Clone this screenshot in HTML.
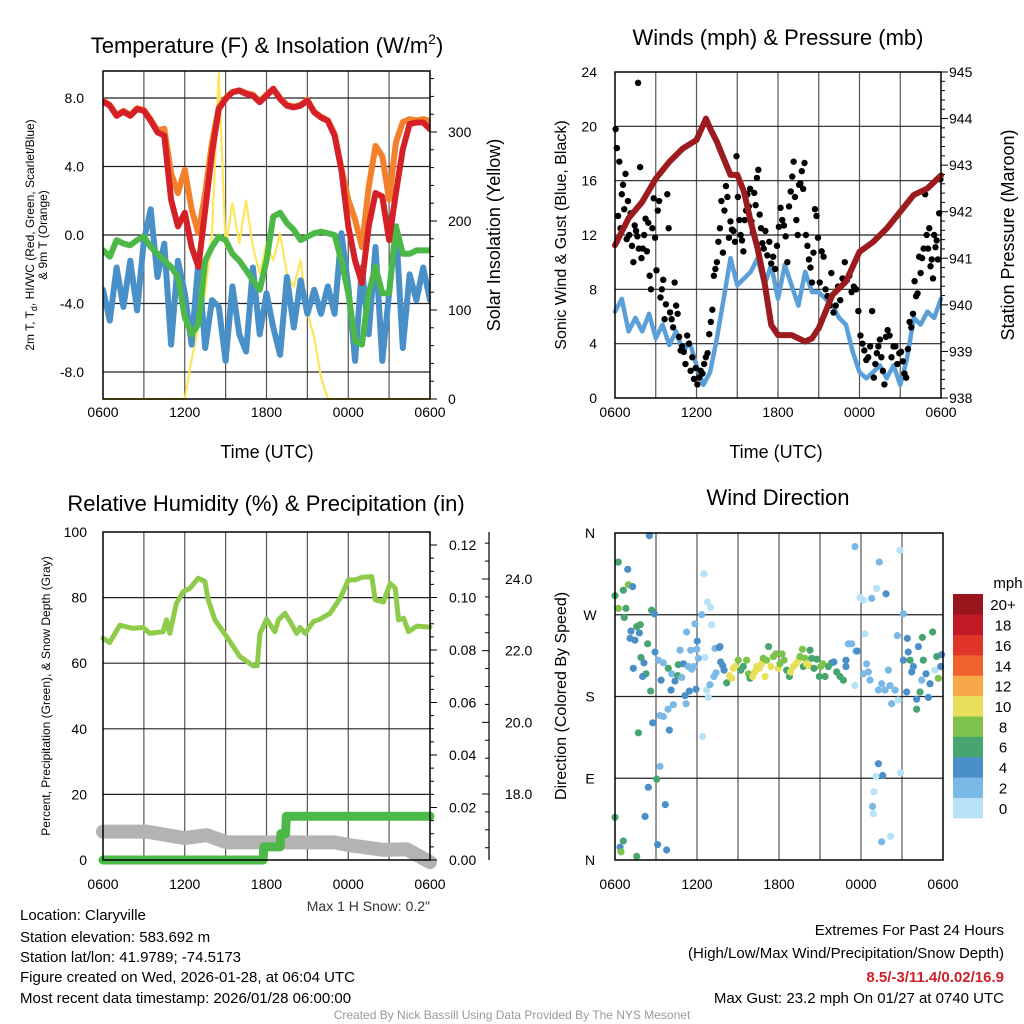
<!DOCTYPE html>
<html><head><meta charset="utf-8"><style>
html,body{margin:0;padding:0;background:#fff;}
svg{display:block;font-family:"Liberation Sans",Arial,sans-serif;}
</style></head><body>
<svg id="fig" width="1024" height="1024" viewBox="0 0 1024 1024" xmlns="http://www.w3.org/2000/svg">
<defs><clipPath id="clip1"><rect x="103" y="71" width="327" height="329"/></clipPath></defs>
<g id="g1"></g>
<g id="g2"></g>
<g id="g3"></g>
<g id="g4"></g>
<g id="txt">
<text x="267" y="53" font-size="22" text-anchor="middle">Temperature (F) &amp; Insolation (W/m<tspan font-size="14" dy="-9">2</tspan><tspan dy="9">)</tspan></text>
<text x="778" y="45" font-size="22" text-anchor="middle">Winds (mph) &amp; Pressure (mb)</text>
<text x="266" y="511" font-size="22" text-anchor="middle">Relative Humidity (%) &amp; Precipitation (in)</text>
<text x="778" y="505" font-size="22" text-anchor="middle">Wind Direction</text>
<text x="267" y="458" font-size="18" text-anchor="middle">Time (UTC)</text>
<text x="776" y="458" font-size="18" text-anchor="middle">Time (UTC)</text>
<text transform="translate(34,235) rotate(-90)" font-size="12" text-anchor="middle">2m T, T<tspan font-size="9" dy="3">d</tspan><tspan dy="-3">, HI/WC (Red, Green, Scarlet/Blue)</tspan></text>
<text transform="translate(47,235) rotate(-90)" font-size="12" text-anchor="middle">&amp; 9m T (Orange)</text>
<text transform="translate(500,235) rotate(-90)" font-size="18" text-anchor="middle">Solar Insolation (Yellow)</text>
<text transform="translate(566,235) rotate(-90)" font-size="16" text-anchor="middle">Sonic Wind &amp; Gust (Blue, Black)</text>
<text transform="translate(1014,235) rotate(-90)" font-size="18" text-anchor="middle">Station Pressure (Maroon)</text>
<text transform="translate(50,696) rotate(-90)" font-size="12" text-anchor="middle">Percent, Precipitation (Green), &amp; Snow Depth (Gray)</text>
<text transform="translate(566,696) rotate(-90)" font-size="16" text-anchor="middle">Direction (Colored By Speed)</text>
<text x="430" y="911" font-size="14" text-anchor="end" fill="#333">Max 1 H Snow: 0.2"</text>
<g font-size="15">
<text x="20" y="920">Location: Claryville</text>
<text x="20" y="942">Station elevation: 583.692 m</text>
<text x="20" y="962">Station lat/lon: 41.9789; -74.5173</text>
<text x="20" y="982">Figure created on Wed, 2026-01-28, at 06:04 UTC</text>
<text x="20" y="1003">Most recent data timestamp: 2026/01/28 06:00:00</text>
</g>
<g font-size="15" text-anchor="end">
<text x="1004" y="935">Extremes For Past 24 Hours</text>
<text x="1004" y="958">(High/Low/Max Wind/Precipitation/Snow Depth)</text>
<text x="1004" y="982" fill="#d0202a" font-weight="bold">8.5/-3/11.4/0.02/16.9</text>
<text x="1004" y="1003">Max Gust: 23.2 mph On 01/27 at 0740 UTC</text>
</g>
<text x="512" y="1019" font-size="12" fill="#999" text-anchor="middle">Created By Nick Bassill Using Data Provided By The NYS Mesonet</text>
</g>
</svg>
<script>
// ---- Panel 1 data (half-hour steps from 0600 UTC) ----
const tempRed=[7.8,7.55,6.96,7.2,6.96,7.35,7.25,6.67,6.0,5.8,2.06,0.5,1.3,-0.7,-1.86,1.47,4.8,7.35,7.94,8.33,8.43,8.24,8.14,7.75,8.14,8.53,7.94,7.55,7.45,7.55,7.84,7.16,6.86,6.67,5.8,3.8,0.5,-1.5,-2.8,0.5,2.45,2.25,-0.3,2.45,5.0,6.47,6.57,6.57,6.18];
const tempOrange=[7.85,7.6,7.0,7.25,7.0,7.4,7.3,6.75,6.1,6.2,3.6,2.45,3.8,1.5,0.1,2.45,5.4,7.45,8.0,8.35,8.45,8.3,8.2,7.8,8.2,8.55,8.0,7.6,7.5,7.6,7.9,7.2,6.9,6.7,5.9,3.9,2.06,0.9,-0.7,2.8,5.2,4.6,2.06,5.4,6.6,6.76,6.7,6.76,6.67];
const dewGreen=[-0.88,-1.27,-0.3,-0.5,-0.6,-0.3,-0.1,-0.7,-1.1,-1.5,-1.86,-2.45,-4.8,-5.8,-5.2,-1.5,-0.7,-0.1,-0.3,-1.1,-1.5,-2.06,-2.65,-3.2,-1.5,1.08,1.3,0.7,0.3,-0.3,-0.1,0.1,0.2,0.1,0,-1.5,-3.4,-6.2,-6.4,-3.4,-1.86,-3.4,-3.4,0.5,-1.1,-1.1,-0.9,-0.9,-0.9];
const chillBlue=[-3.2,-5,-1.9,-4.2,-1.5,-4.4,-0.3,1.5,-2.45,-0.5,-6.4,-1.5,-3.4,-6.4,-1.5,-6.6,-3.8,-4.2,-7.35,-3.0,-5.8,-6.8,-1.9,-5.8,-3.4,-5.4,-7,-2.45,-5.4,-2.65,-4.6,-3.2,-4.6,-3,-4.6,0.1,-3,-7.35,-1.9,-5.8,-0.7,-7.35,-3.4,0.5,-6.6,-2.3,-3.8,-1.9,-3.8];
const solar=[0,0,0,0,0,0,0,0,0,0,0,0,0,44,81,119,186,366,171,220,175,223,171,141,175,156,186,141,126,156,96,70,25,0,0,0,0,0,0,0,0,0,0,0,0,0,0,0,0];
const xTickLabels=["0600","1200","1800","0000","0600"];
const tempTicks=[8.0,4.0,0.0,-4.0,-8.0];
const solarTicks=[0,100,200,300];
// ---- Panel 2 data ----
const sonicWind=[6.35,7.3,4.9,5.9,4.9,6.2,4.4,5.4,3.9,4.9,3.4,4.1,2.4,0.96,1.9,4.4,7.3,10.3,8.3,8.8,9.3,10.3,8.3,9.8,7.3,9.8,8.3,6.8,9.3,7.8,7.8,7.3,6.8,5.9,5.4,3.4,1.9,1.45,1.9,2.4,1.45,2.4,0.96,2.9,5.9,5.4,6.35,5.9,7.3];
const presHours=[0,1,2,3,4,5,6,6.7,7,7.5,8,8.5,9,9.5,10,10.5,11,11.5,12,13,14,14.5,15,15.5,16,17,18,19,20,21,22,23,24];
const presValues=[941.28,941.86,942.21,942.71,943.07,943.36,943.54,944.0,943.79,943.5,943.14,942.79,942.79,942.43,941.78,941.21,940.5,939.57,939.35,939.35,939.21,939.28,939.5,939.85,940.21,940.5,941.14,941.35,941.64,942.0,942.36,942.5,942.78];
const gustsByHour=[
[19.8,18.4,13.4,17.4,12.5,15.0,15.7,13.9,16.5,11.7,14.5],
[12.0,13.6,11.2,10.0,12.7,12.3,11.9,11.0,17.0,10.3],
[11.0,12.0,13.2,10.8,12.9,9.0,8.0,12.5,14.7,11.8],
[9.4,13.8,14.5,7.4,8.0,8.7,5.8,6.9,15.0,12.5],
[6.3,5.8,5.2,8.5,6.8,6.2,4.5,3.5,3.8],
[3.4,2.5,4.6,4.0,2.0,3.0,1.4,2.2],
[1.0,1.5,2.0,1.8,2.5,3.0,3.3,4.7],
[5.6,6.5,9.0,9.5,10.0,11.5,12.5,14.5,10.7],
[13.8,15.6,14.8,11.8,13.0,12.4,12.3,11.5,17.8],
[14.8,13.1,12.0,11.6,10.8,13.1,13.8,15.0,14.1,15.4],
[13.0,12.2,15.1,14.2,16.2,16.8,13.5,12.5,11.4,11.0],
[12.3,10.5,11.5,9.9,10.4,9.5,11.2],
[12.6,14.0,13.1,12.7,11.9,10.0,14.1,15.2],
[16.3,17.4,14.8,13.1,12.0,15.7,15.8,16.7,15.4,17.3],
[12.0,11.2,10.2,9.6,8.5,10.7,13.9,13.4,11.8],
[8.5,10.8,10.4,8.0,7.5,6.8,9.2],
[6.3,6.8,8.2,7.2,8.8,10.0],
[8.7,9.0,7.8,8.2,8.0,6.4],
[4.6,4.0,3.5,2.8,3.0,3.8,6.4],
[1.5,2.5,3.3,3.8,4.3,3.0,2.0,1.0,4.5],
[5.0,4.6,3.0,3.8,3.8,2.5,3.3],
[3.4,2.7,1.8,1.5,3.6,5.6,5.2,6.2],
[8.6,7.5,7.7,10.4,9.2,10.3,11.0,15.0,12.0],
[11.0,12.5,9.7,10.2,8.8,12.0,11.1,11.6,10.2,13.6,16.1]];
const windTicks=[0,4,8,12,16,20,24];
const presTicks=[938,939,940,941,942,943,944,945];
// ---- Panel 3 data ----
const rhHours=[0,0.49,1.23,2.21,2.94,3.43,4.41,4.66,4.9,5.39,5.88,6.37,6.99,7.48,7.72,8.21,9.07,10.05,11.03,11.32,11.52,12.01,12.62,12.87,13.36,13.73,14.22,14.46,14.83,15.44,15.93,16.67,17.4,18.01,18.5,19.0,19.73,19.98,20.59,21.08,21.45,21.69,22.06,22.43,23.04,24];
const rhValues=[67.6,66.3,71.6,70.6,70.9,69.1,69.6,73.2,69.1,78.3,81.8,82.8,85.9,84.9,79.3,73.2,68.1,62.0,59.2,59.2,69.1,73.4,69.6,73.2,75.2,72.7,69.1,70.9,69.1,72.7,73.4,75.2,79.8,85.4,85.4,86.2,86.4,79.3,78.7,84.3,82.8,73.2,73.7,69.6,71.3,71.0];
const precipHours=[0,11.75,11.8,13.0,13.05,13.4,13.45,24];
const precipValues=[0,0,0.005,0.005,0.01,0.01,0.0167,0.0167];
const snowHours=[0,3.2,6,7.6,9.1,17,18.3,20.6,22.3,24];
const snowValues=[16.95,16.95,16.77,16.85,16.65,16.65,16.56,16.44,16.46,16.1];
const rhTicks=[0,20,40,60,80,100];
const precipTicks=[0.00,0.02,0.04,0.06,0.08,0.10,0.12];
const snowTicks=[18.0,20.0,22.0,24.0];
// ---- Panel 4 data ----
const dirHours=[0,0.24,0.24,0.61,0.98,0.8,0.68,0.93,1.29,1.17,1.1,1.46,1.78,1.59,1.85,2.39,1.9,2.12,2.27,2.02,1.34,2.61,2.51,2.68,2.88,2.93,2.76,1.71,3.29,3.05,2.44,2.2,3.68,3.12,3.78,1.59,0.61,0.37,0.44,0,3.17,3.54,3.9,4.15,3.37,4.39,4.1,4.59,4.63,5.0,5.37,4.88,5.12,5.44,5.93,4.27,3.88,3.54,3.29,3.98,5.2,4.76,5.24,5.54,5.78,5.61,5.85,6.02,5.98,6.34,6.51,6.76,7.0,7.07,6.59,6.1,6.71,6.83,6.41,6.95,7.24,7.39,7.32,7.63,7.68,7.73,7.88,7.98,8.17,8.37,8.54,8.66,8.78,9.02,9.2,9.39,9.63,9.76,9.88,10.07,10.24,10.37,10.56,10.73,10.85,10.98,11.1,11.24,11.41,11.59,11.78,11.95,12.07,12.22,12.37,12.56,12.76,12.85,13.05,13.24,13.41,13.54,13.71,13.78,13.9,14.02,14.17,14.27,14.39,14.56,14.76,14.95,15.05,15.2,15.37,15.61,15.85,16.02,16.22,16.46,16.71,16.9,16.9,17.07,17.32,17.56,17.63,17.73,17.56,17.93,18.17,18.29,18.41,18.17,18.54,18.66,18.78,19.15,19.34,19.83,20.0,19.27,19.51,19.76,20.12,20.24,20.49,20.73,20.85,21.1,20.66,21.1,21.34,21.39,21.46,21.59,21.71,21.83,22.07,22.07,22.2,22.32,22.44,22.49,22.56,22.76,22.93,23.05,23.24,23.54,23.66,23.83,23.9,23.41,19.27,19.1,19.59,18.95,18.85,18.9,19.51,20.17,20.9];
const dirDegrees=[291,328,277,297,303,277,267,320,301,252,244,242,250,257,259,238,223,217,205,202,211,186,357,275,271,229,151,140,103,89,80,48,61,17,11,4,21,14,9,47,220,217,211,205,198,197,187,203,215,216,213,201,181,186,188,171,166,158,159,143,172,231,251,231,213,210,260,241,232,270,315,284,278,259,223,222,187,179,136,193,202,206,233,234,235,218,214,209,195,203,200,211,213,220,209,213,220,205,200,202,207,213,211,216,222,202,220,235,213,224,227,211,216,227,220,209,202,207,213,216,220,224,232,213,222,216,214,231,222,211,221,202,213,216,202,213,217,218,207,202,198,213,220,238,238,345,230,230,192,289,286,249,216,205,207,198,288,299,328,293,209,187,194,187,192,172,187,176,341,271,247,220,185,244,229,220,207,213,177,166,235,185,198,245,220,205,179,194,251,224,200,213,226,209,106,92,93,75,59,51,20,26,96];
const dirSpeeds=[7,7,9,7,9,7,7,5,5,5,5,5,5,7,7,7,7,5,7,5,5,7,5,7,5,5,5,7,3,7,5,5,5,5,5,7,7,5,9,7,3,3,7,3,5,5,5,7,7,5,3,3,5,5,5,3,3,3,3,5,3,3,3,3,3,3,3,5,3,3,1,1,1,1,1,3,1,1,1,3,3,3,3,5,5,5,5,5,7,11,11,11,11,9,7,7,9,9,7,11,11,11,11,11,9,11,9,7,11,9,9,11,9,9,9,7,7,11,11,11,11,9,9,7,9,11,11,7,7,7,7,7,9,9,7,7,7,5,7,7,7,5,5,3,3,3,3,5,1,1,1,1,3,3,3,3,3,1,3,5,3,3,3,3,3,3,3,1,1,3,3,5,5,5,5,7,5,5,5,7,5,7,3,7,7,5,5,5,7,7,9,5,5,1,5,1,5,1,3,1,3,1];
const dirTickLabels=["N","E","S","W","N"];
const speedBins=["0","2","4","6","8","10","12","14","16","18","20+"];
const speedColors=["#b8e2f7","#7ab8e6","#4a8fc8","#47a56f","#7dc24b","#e8e05a","#f8a848","#f0622b","#e03528","#c11b25","#98161b"];

const NS="http://www.w3.org/2000/svg";
function mk(parent,tag,attrs){const e=document.createElementNS(NS,tag);for(const k in attrs)e.setAttribute(k,attrs[k]);parent.appendChild(e);return e;}
function scale(d0,d1,r0,r1){return v=>r0+(v-d0)/(d1-d0)*(r1-r0);}
function pathD(xs,ys){return xs.map((x,i)=>(i?"L":"M")+x.toFixed(1)+","+ys[i].toFixed(1)).join("");}
function halfHours(n){const a=[];for(let i=0;i<n;i++)a.push(i*0.5);return a;}

function frame(g,L,R,T,B,hGridVals,yS,xS){
  for(let h=3;h<24;h+=3){const l=mk(g,"line",{x1:xS(h),x2:xS(h),y1:T,y2:B,stroke:"#555","stroke-width":1.2});
    }
  hGridVals.forEach(v=>{const y=yS(v);if(y>T+1&&y<B-1){const l=mk(g,"line",{x1:L,x2:R,y1:y,y2:y,stroke:"#222","stroke-width":1.2});
    }});
}
function border(g,L,R,T,B){const r=mk(g,"rect",{x:L,y:T,width:R-L,height:B-T,fill:"none",stroke:"#000","stroke-width":1.5});
  }
function xLabels(g,xS,y){xTickLabels.forEach((t,i)=>{const e=mk(g,"text",{x:xS(i*6),y:y,"font-size":14,"text-anchor":"middle"});e.textContent=t;
  });}
function series(g,xs,ys,color,w,name){const p=mk(g,"path",{d:pathD(xs,ys),fill:"none",stroke:color,"stroke-width":w,"stroke-linejoin":"round","stroke-linecap":"round"});
  return p;}

// ---------- Panel 1 ----------
(function(){
  const g=document.getElementById("g1");const L=103,R=430,T=71,B=399;
  const xS=scale(0,24,L,R), yS=scale(8,-8,98,372), sS=scale(0,300,399,132);
  frame(g,L,R,T,B,tempTicks,yS,xS);
  const hh=halfHours(49).map(xS);
  const cg=mk(g,"g",{"clip-path":"url(#clip1)"});
  
  series(cg,hh,solar.map(sS),"#fde65a",2.2,"solar-insolation-line");
  series(cg,hh,chillBlue.map(yS),"#4a90c8",6,"wind-chill-line");
  series(cg,hh,dewGreen.map(yS),"#4cb848",6,"dewpoint-line");
  series(cg,hh,tempOrange.map(yS),"#f4802b",6,"temp-9m-line");
  series(cg,hh,tempRed.map(yS),"#d42026",6,"temp-2m-line");
  border(g,L,R,T,B);
  tempTicks.forEach(v=>{const e=mk(g,"text",{x:84,y:yS(v)+5,"font-size":14,"text-anchor":"end"});e.textContent=v.toFixed(1);
    });
  for(let v=0;v<=360;v+=20){const y=sS(v);if(y>=T)mk(g,"line",{x1:R,x2:R+(v%100?4:7),y1:y,y2:y,stroke:"#000"});}
  solarTicks.forEach(v=>{const e=mk(g,"text",{x:448,y:sS(v)+5,"font-size":14});e.textContent=v;
    });
  xLabels(g,xS,417);
})();

// ---------- Panel 2 ----------
(function(){
  const g=document.getElementById("g2");const L=615,R=941,T=72,B=398;
  const xS=scale(0,24,L,R), yS=scale(0,24,B,T), pS=scale(938,945,B,T);
  frame(g,L,R,T,B,windTicks,yS,xS);
  series(g,halfHours(49).map(xS),sonicWind.map(yS),"#5a9fd8",4.5,"sonic-wind-line");
  gustsByHour.forEach((arr,h)=>arr.forEach((v,i)=>{
    const c=mk(g,"circle",{cx:xS(h+(i+0.5)/arr.length),cy:yS(v),r:3.2,fill:"#000"});
    }));
  const gp=mk(g,"circle",{cx:xS(1.7),cy:yS(23.2),r:3.2,fill:"#000"});
  
  series(g,presHours.map(xS),presValues.map(pS),"#9b1b1e",6,"pressure-line");
  border(g,L,R,T,B);
  windTicks.forEach(v=>{const e=mk(g,"text",{x:597,y:yS(v)+5,"font-size":14,"text-anchor":"end"});e.textContent=v;
    });
  for(let v=938;v<=945.001;v+=0.2){const y=pS(v);mk(g,"line",{x1:R,x2:R+(Math.abs(v-Math.round(v))<0.01?7:4),y1:y,y2:y,stroke:"#000"});}
  presTicks.forEach(v=>{const e=mk(g,"text",{x:949,y:pS(v)+5,"font-size":14});e.textContent=v;
    });
  xLabels(g,xS,417);
})();

// ---------- Panel 3 ----------
(function(){
  const g=document.getElementById("g3");const L=103,R=430,T=532,B=860;
  const xS=scale(0,24,L,R), yS=scale(0,100,B,T), prS=scale(0,0.12,B,545), snS=scale(18,24,794,579);
  frame(g,L,R,T,B,rhTicks,yS,xS);
  series(g,rhHours.map(xS),rhValues.map(yS),"#8fcb4a",5,"relative-humidity-line");
  series(g,snowHours.map(xS),snowValues.map(snS),"#b3b3b3",14,"snow-depth-line");
  series(g,precipHours.map(xS),precipValues.map(prS),"#4cb848",9,"precipitation-line");
  border(g,L,R,T,B);
  rhTicks.forEach(v=>{const e=mk(g,"text",{x:87,y:yS(v)+5,"font-size":14,"text-anchor":"end"});e.textContent=v;
    });
  for(let v=0;v<=0.125;v+=0.005){const y=prS(v);mk(g,"line",{x1:R,x2:R+(Math.round(v*1000)%20===0?7:4),y1:y,y2:y,stroke:"#000"});}
  precipTicks.forEach(v=>{const e=mk(g,"text",{x:449,y:prS(v)+5,"font-size":14});e.textContent=v.toFixed(2);
    });
  const ax=mk(g,"line",{x1:489,x2:489,y1:532,y2:860,stroke:"#000","stroke-width":1.2});
  
  for(let v=16.5;v<=25;v+=0.5){const y=snS(v);if(y>=532&&y<=860)mk(g,"line",{x1:489,x2:489-(v%2===0?7:4),y1:y,y2:y,stroke:"#000"});}
  snowTicks.forEach(v=>{const e=mk(g,"text",{x:505,y:snS(v)+5,"font-size":14});e.textContent=v.toFixed(1);
    });
  xLabels(g,xS,889);
})();

// ---------- Panel 4 ----------
(function(){
  const g=document.getElementById("g4");const L=615,R=943,T=533,B=860;
  const xS=scale(0,24,L,R), yS=scale(0,360,B,T);
  frame(g,L,R,T,B,[0,90,180,270,360],yS,xS);
  dirHours.forEach((h,i)=>{const sp=(dirSpeeds[i]===undefined)?1:dirSpeeds[i];const bin=Math.min(10,Math.floor(sp/2));
    const c=mk(g,"circle",{cx:xS(h),cy:yS(dirDegrees[i]),r:3.6,fill:speedColors[bin]});
    });
  border(g,L,R,T,B);
  dirTickLabels.forEach((t,i)=>{const e=mk(g,"text",{x:590,y:yS(i*90)+5,"font-size":14,"text-anchor":"middle"});e.textContent=t;
    });
  xLabels(g,xS,889);
  const cb=mk(g,"g",{});
  const h=(818-594)/speedBins.length;
  speedColors.forEach((col,i)=>{const y=818-(i+1)*h;
    const r=mk(cb,"rect",{x:953,y:y,width:30,height:h+0.3,fill:col});
    
    const e=mk(cb,"text",{x:1003,y:y+h/2+6,"font-size":15,"text-anchor":"middle"});e.textContent=speedBins[i];
    });
  const u=mk(cb,"text",{x:1008,y:588,"font-size":15,"text-anchor":"middle"});u.textContent="mph";
  
})();
</script>
</body></html>
